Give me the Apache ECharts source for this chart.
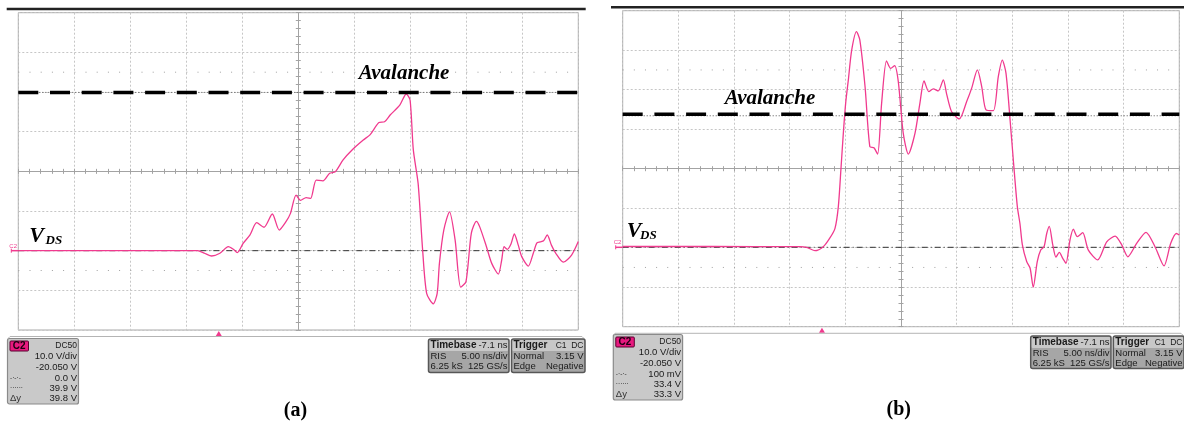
<!DOCTYPE html>
<html><head><meta charset="utf-8">
<script src="https://cdn.jsdelivr.net/npm/echarts@6/dist/echarts.min.js"></script>
<style>html,body{margin:0;padding:0;background:#fff;}#c{width:1184px;height:428px;}</style>
</head><body><div id="c"></div>
<script>
// ---------------- data ----------------
const timeRange = [0, 50];           // ns (5 ns/div, 10 div)
const voltRange = [-20, 60];         // V (10 V/div, 8 div)
const timeA = [0,8,16.0,16.6,17.27,18.0,18.75,19.2,19.55,20.09,20.69,21.28,21.94,22.68,23.3,23.9,24.3,24.8,25.2,25.7,26.1,26.6,27.2,27.8,28.3,29.0,29.8,30.8,31.4,32.2,32.7,33.2,34.06,34.64,34.98,35.27,35.7,36.1,36.46,37.05,37.4,37.6,37.99,38.5,39.0,39.5,39.97,40.45,40.9,41.2,41.8,42.27,42.86,43.16,43.37,43.66,43.99,44.29,44.64,44.95,45.54,45.98,46.29,46.6,46.9,47.23,47.6,47.99,48.66,49.4,50];
const voltA = [0,0,0,-0.6,-1.34,-0.66,1.0,0.35,-0.5,1.9,4.0,7.05,5.9,9.25,5.2,7.3,9.4,14.0,12.7,13.4,13.2,17.8,17.6,19.5,19.9,22.9,25.4,27.9,29.2,32.3,32.5,34.2,36.7,39.5,38.0,25.4,16.9,0.2,-10.75,-13.4,-10.75,-3.2,5.2,9.8,2.7,-9.2,-7.8,4.4,7.4,6.0,1.0,-3.2,-5.9,-2.35,1.0,0.35,1.7,4.2,1.4,-1.5,-3.9,-0.66,1.9,2.2,2.5,3.95,1.4,-0.66,-2.9,-1.1,2.3];
const timeB = [0,8,15.9,16.6,17.27,18.02,18.6,19.07,19.37,19.6,19.82,20.03,20.27,20.57,21.0,21.3,21.77,22.2,22.57,22.9,23.26,23.7,24.07,24.43,24.76,25.2,25.66,26.26,26.7,27.07,27.5,27.9,28.35,28.8,29.1,29.55,30.24,30.9,31.35,31.86,32.25,32.64,33.3,33.74,34.1,34.43,34.8,35.09,35.45,35.69,35.9,36.29,36.6,36.88,37.24,37.55,37.85,38.09,38.32,38.63,38.92,39.22,39.53,39.82,40.18,40.48,40.84,41.32,41.83,42.67,43.48,44.24,44.83,45.37,46.17,47.01,47.82,48.63,49.23,49.74,50];
const voltB = [0.3,0.3,0.25,0.0,-0.76,0.25,2.4,4.9,10.4,19.7,29.0,36.6,42.5,50.0,54.7,52.6,40.8,25.6,25.3,23.7,36.6,47.3,45.4,46.1,42.0,29.0,23.7,29.0,36.6,42.2,39.5,40.2,39.7,42.5,38.9,34.4,32.6,37.0,40.4,45.0,40.8,34.9,34.7,43.3,47.5,44.2,32.3,22.2,10.4,6.0,0.8,-3.5,-5.2,-10.0,-3.5,-0.6,0.25,3.6,5.4,0.8,-2.4,-1.2,-2.7,-3.95,1.95,4.7,2.8,3.8,-0.6,-3.1,1.5,2.95,0.7,-2.3,1.1,3.9,0.25,-4.6,1.1,3.6,3.2];
const avalancheV = [39.9, 33.8];     // thick dashed annotation lines
const dottedCursorV = [39.9, 33.4];  // "......" cursor
const dashDotCursorV = [0.0, 0.1];   // "-.-.-" cursor
const dotRowsV = [45, -5];           // +-2.5 div marker rows
const triggerT = [17.9, 17.9];
const panelLabels = ['(a)', '(b)'];
const avalancheText = 'Avalanche';
const vdsText = ['V', 'DS'];
const chanRowsA = ['DC50', '10.0 V/div', '-20.050 V', '0.0 V', '39.9 V', '39.8 V'];
const chanRowsB = ['DC50', '10.0 V/div', '-20.050 V', '100 mV', '33.4 V', '33.3 V'];
const chanSyms = ['', '', '', '-·-·-', '······', 'Δy'];
const timebaseRows = [['Timebase', '-7.1 ns'], ['RIS', '5.00 ns/div'], ['6.25 kS', '125 GS/s']];
const triggerRows = [['Trigger', 'C1  DC'], ['Normal', '3.15 V'], ['Edge', 'Negative']];

// ---------------- layout ----------------
const PINK = '#f03a8e';
const SANS = '"Liberation Sans", Arial, sans-serif';
const SERIF = '"Liberation Serif", "Times New Roman", serif';
const LAYOUT = [
  {gx:18.3, gy:12.7, gw:560, gh:317.3, top:{x1:6.7,x2:585.7,y:9}, status:{x1:8,x2:582,y:336.5},
   chan:{x:7.5,y:338.5,w:71,h:65.5}, tb:{x:428.5,y:339,w:80.5,h:33.5}, tr:{x:511.5,y:339,w:73.5,h:33.5},
   lab:{x:295.5,y:411}, aval:{x:358.8,y:73.5}, v:{x:29.3,y:236}, ds:{x:45.5,y:241}},
  {gx:622.7, gy:10.7, gw:556.6, gh:316, top:{x1:611,x2:1184,y:7.3}, status:{x1:613,x2:1181,y:333.3},
   chan:{x:613.3,y:334.5,w:69.3,h:65.5}, tb:{x:1030.7,y:336,w:80.3,h:32.5}, tr:{x:1113.3,y:336,w:70.7,h:32.5},
   lab:{x:898.7,y:410}, aval:{x:724.7,y:98.8}, v:{x:626.8,y:231}, ds:{x:640,y:236}}
];

const zip = (xs, ys) => xs.map((x, i) => [x, ys[i]]);
const GRIDC = '#c6c6c6', CENTC = '#a3a3a3';

const grids = LAYOUT.map(L => ({left:L.gx, top:L.gy, width:L.gw, height:L.gh, show:true,
  borderColor:'#a8a8a8', borderWidth:1, backgroundColor:'rgba(0,0,0,0)', containLabel:false, outerBoundsMode:'none'}));

const xAxes = [], yAxes = [];
LAYOUT.forEach((L, gi) => {
  xAxes.push({type:'value', gridIndex:gi, min:timeRange[0], max:timeRange[1], interval:5, position:'bottom',
    axisLine:{show:false, onZero:false}, axisTick:{show:false}, axisLabel:{show:false},
    splitLine:{show:true, lineStyle:{color:GRIDC, width:1, type:[2,2]}}});
  yAxes.push({type:'value', gridIndex:gi, min:voltRange[0], max:voltRange[1], interval:10, position:'left',
    axisLine:{show:false, onZero:false}, axisTick:{show:false}, axisLabel:{show:false},
    splitLine:{show:true, lineStyle:{color:GRIDC, width:1, type:[2,2]}}});
});
LAYOUT.forEach((L, gi) => {
  [true, false].forEach(inside => {
    xAxes.push({type:'value', gridIndex:gi, min:timeRange[0], max:timeRange[1], interval:5, position:'bottom',
      offset:-L.gh/2, axisLine:{show:inside, onZero:false, lineStyle:{color:CENTC, width:1}},
      axisTick:{show:true, inside:inside, length:2.5, lineStyle:{color:CENTC}},
      minorTick:{show:true, splitNumber:5, length:2.5, lineStyle:{color:CENTC}},
      axisLabel:{show:false}, splitLine:{show:false}});
    yAxes.push({type:'value', gridIndex:gi, min:voltRange[0], max:voltRange[1], interval:10, position:'left',
      offset:-L.gw/2, axisLine:{show:inside, onZero:false, lineStyle:{color:CENTC, width:1}},
      axisTick:{show:true, inside:inside, length:2.5, lineStyle:{color:CENTC}},
      minorTick:{show:true, splitNumber:5, length:2.5, lineStyle:{color:CENTC}},
      axisLabel:{show:false}, splitLine:{show:false}});
  });
});

const series = [];
const traces = [zip(timeA, voltA), zip(timeB, voltB)];
LAYOUT.forEach((L, gi) => {
  const flat = v => timeRange.map(t => [t, v]);
  const base = {type:'line', xAxisIndex:gi, yAxisIndex:gi, showSymbol:false, symbol:'none', silent:true, animation:false};
  dotRowsV.forEach(v => series.push(Object.assign({}, base, {data:flat(v), z:1,
    lineStyle:{color:'#a0a0a0', width:1, type:[1, L.gw/50 - 1]}})));
  series.push(Object.assign({}, base, {data:flat(dottedCursorV[gi]), z:2, lineStyle:{color:'#555', width:1, type:[1,2]}}));
  series.push(Object.assign({}, base, {data:flat(dashDotCursorV[gi]), z:2, lineStyle:{color:'#333', width:1, type:[6,3,1,3]}}));
  series.push(Object.assign({}, base, {data:traces[gi], z:3, smooth:0.25,
    lineStyle:{color:PINK, width:1.3},
    markPoint:{silent:true, symbol:'triangle', symbolSize:[6,5], symbolOffset:[0,3.5], itemStyle:{color:PINK},
      label:{show:false}, data:[{coord:[triggerT[gi], voltRange[0]]}]}}));
  series.push(Object.assign({}, base, {data:flat(avalancheV[gi]), z:5, lineStyle:{color:'#000', width:3.5, type:[20,11.7]}}));
});

const chart = echarts.init(document.getElementById('c'));
chart.setOption({animation:false, grid:grids, xAxis:xAxes, yAxis:yAxes, series:series});

// ---------------- decorations ----------------
const G = [];
const txt = (x, y, s, font, fill, align, va) => ({type:'text', z:100, x:x, y:y,
  style:{text:s, font:font, fill:fill || '#111', align:align || 'left', verticalAlign:va || 'middle'}});
const rect = (x, y, w, h, fill, stroke, lw, r) => ({type:'rect', z:99, shape:{x:x, y:y, width:w, height:h, r:r || 0},
  style:{fill:fill, stroke:stroke, lineWidth:lw || 1}});
LAYOUT.forEach((L, gi) => {
  G.push({type:'line', z:100, shape:{x1:L.top.x1, y1:L.top.y, x2:L.top.x2, y2:L.top.y}, style:{stroke:'#222', lineWidth:2.5}});
  G.push({type:'polyline', z:98, shape:{points:[[L.status.x1, L.status.y + 2], [L.status.x1 + 2, L.status.y], [L.status.x2, L.status.y], [L.status.x2 + 3, L.status.y + 3]]},
    style:{stroke:'#b4b4b4', fill:null, lineWidth:1}});
  // channel marker
  const p0 = chart.convertToPixel({gridIndex:gi}, [timeRange[0], dashDotCursorV[gi]]);
  G.push({type:'line', z:100, shape:{x1:p0[0] - 7, y1:p0[1], x2:p0[0], y2:p0[1]}, style:{stroke:PINK, lineWidth:1.5}});
  G.push({type:'line', z:100, shape:{x1:p0[0] - 7, y1:p0[1] - 2, x2:p0[0] - 7, y2:p0[1] + 2}, style:{stroke:PINK, lineWidth:1}});
  G.push(txt(p0[0] - 9, p0[1] - 4.5, 'C2', '6px ' + SANS, PINK, 'left', 'middle'));
  // annotations
  G.push(txt(L.aval.x, L.aval.y, avalancheText, 'bold italic 21px ' + SERIF, '#000'));
  G.push(txt(L.v.x, L.v.y, vdsText[0], 'bold italic 22px ' + SERIF, '#000'));
  G.push(txt(L.ds.x, L.ds.y, vdsText[1], 'bold italic 13px ' + SERIF, '#000'));
  G.push(txt(L.lab.x, L.lab.y, panelLabels[gi], 'bold 20px ' + SERIF, '#000', 'center'));
  // channel box
  const C = L.chan, rowsC = gi === 0 ? chanRowsA : chanRowsB;
  G.push(rect(C.x, C.y, C.w, C.h, '#c9c9c9', '#8a8a8a', 1.2, 2));
  G.push(rect(C.x + 2.5, C.y + 2.5, 18.5, 10, '#e8197f', '#5a0030', 1, 1));
  G.push(txt(C.x + 11.7, C.y + 7.6, 'C2', 'bold 10px ' + SANS, '#1a0010', 'center'));
  const rowY = [7.6, 18.2, 29.2, 39.8, 49.8, 59.8];
  rowsC.forEach((s, k) => {
    G.push(txt(C.x + C.w - 1.5, C.y + rowY[k], s, (k === 0 ? '8.5px ' : '9.5px ') + SANS, '#1a1a1a', 'right'));
    if (chanSyms[k]) G.push(txt(C.x + 2.5, C.y + rowY[k], chanSyms[k], (k === 5 ? '9.5px ' : '6.5px ') + SANS, '#333', 'left'));
  });
  // timebase / trigger boxes
  [[L.tb, timebaseRows], [L.tr, triggerRows]].forEach(([B, rows]) => {
    G.push(rect(B.x, B.y, B.w, B.h, '#a6a6a6', '#575757', 1.5, 2));
    G.push(rect(B.x + 1, B.y + 1, B.w - 2, 11, '#c8c8c8', null, 0, 1));
    const ry = [6.2, 17.6, 27];
    rows.forEach((r, k) => {
      const f = (k === 0 ? 'bold 10px ' : '9.5px ') + SANS;
      G.push(txt(B.x + 2, B.y + ry[k], r[0], f, '#1a1a1a', 'left'));
      G.push(txt(B.x + B.w - 1.5, B.y + ry[k], r[1], (k === 0 && r === triggerRows[0] ? '8.5px ' : '9.5px ') + SANS, '#1a1a1a', 'right'));
    });
  });
});
chart.setOption({graphic: G});
</script></body></html>
